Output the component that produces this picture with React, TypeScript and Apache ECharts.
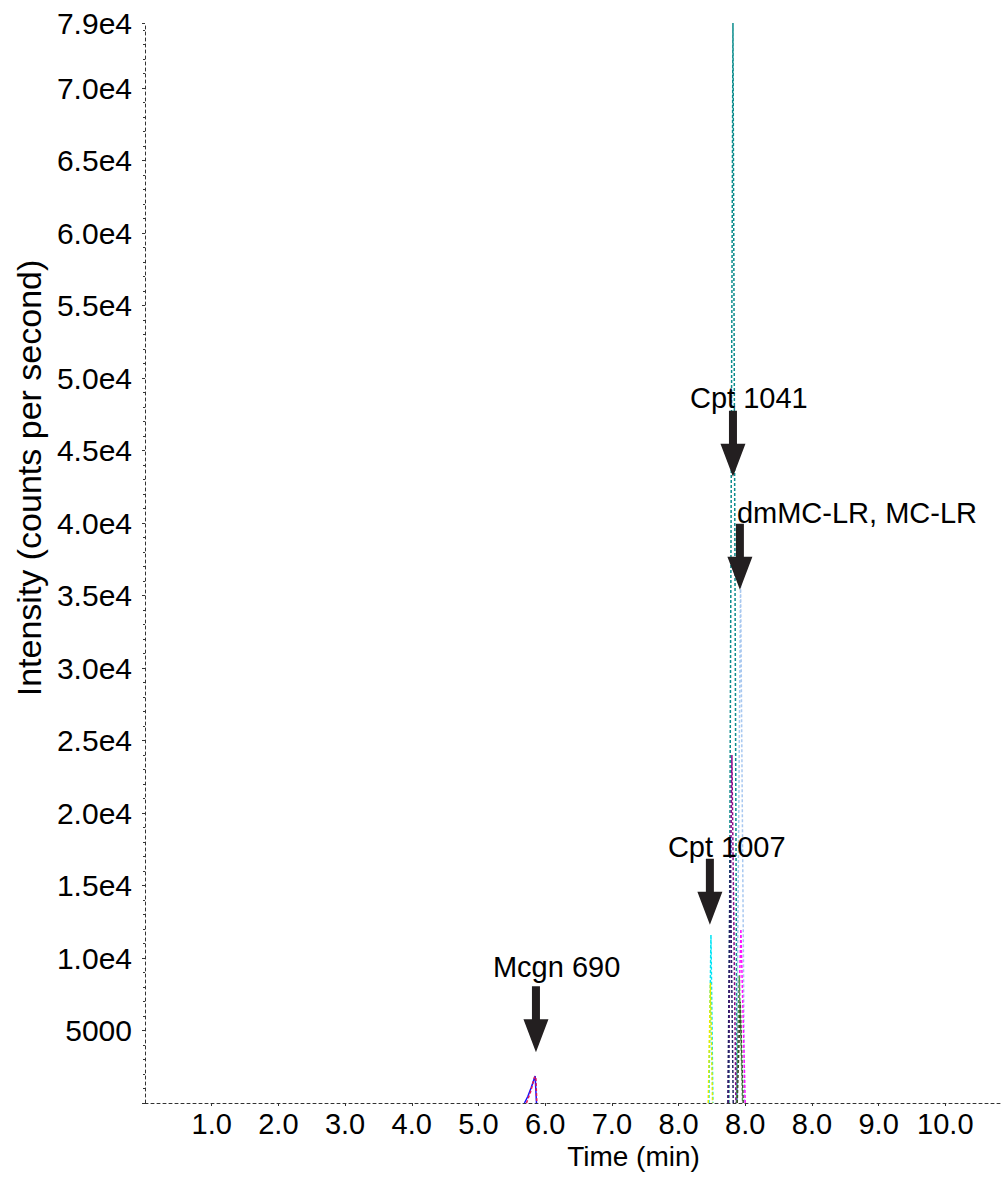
import { useEffect, useRef } from 'react';
import * as echarts from 'echarts';

// Axis ticks as printed on the time axis (one label per unit step)
const X_TICK_LABELS = ['1.0', '2.0', '3.0', '4.0', '5.0', '6.0', '7.0', '8.0', '8.0', '8.0', '9.0', '10.0'];
const X_MAX = 12.85;
const Y_MAX = 74500;
const Y_TOP_LABEL = '7.9e4';

// Extracted ion traces: [time position, intensity]
const mcgnBlue = [[5.69, 0], [5.74, 450], [5.79, 1050], [5.85, 1860], [5.87, 0]];
const mcgnRed = [[5.72, 0], [5.78, 750], [5.84, 1780], [5.86, 1820], [5.875, 0]];
const cpt1007Cyan = [[8.455, 0], [8.486, 11600], [8.515, 0]];
const cpt1007Yellow = [[8.445, 0], [8.478, 8300], [8.51, 0]];
const cpt1041Teal = [[8.755, 0], [8.816, 74500], [8.876, 0]];
const purpleTrace = [[8.745, 0], [8.8, 24000], [8.86, 0]];
const navyTrace = [[8.74, 0], [8.775, 17000], [8.82, 0]];
const mclrLightBlue = [[8.87, 0], [8.93, 36000], [8.99, 0]];
const magentaTrace = [[8.87, 0], [8.935, 12000], [9.0, 0]];
const greenTrace = [[8.87, 0], [8.91, 8800], [8.96, 0]];
const oliveTrace = [[8.88, 0], [8.925, 7000], [8.97, 0]];

const TRACES = [
  { name: 'Mcgn 690 a', color: '#1010ff', dash: 'solid', data: mcgnBlue },
  { name: 'Mcgn 690 b', color: '#e0185a', dash: [3, 2], data: mcgnRed },
  { name: 'Cpt 1007 a', color: '#00e4f4', dash: [3, 2], data: cpt1007Cyan },
  { name: 'Cpt 1007 b', color: '#e4ec00', dash: [3, 2], data: cpt1007Yellow },
  { name: 'Cpt 1041', color: '#0a8c8c', dash: [3, 2], data: cpt1041Teal },
  { name: 'trace p', color: '#8b0a8b', dash: [3, 2], data: purpleTrace },
  { name: 'trace n', color: '#262266', dash: [3, 2], data: navyTrace },
  { name: 'MC-LR', color: '#a8c8f0', dash: [3, 2], data: mclrLightBlue },
  { name: 'dmMC-LR', color: '#ff10ff', dash: [3, 2], data: magentaTrace },
  { name: 'trace g', color: '#4ea04e', dash: [3, 2], data: greenTrace },
  { name: 'trace o', color: '#3c4a30', dash: [3, 2], data: oliveTrace },
];

// Peak annotations: arrow tip position [time position, intensity]
const ANNOT_LABELS = ['Mcgn 690', 'Cpt 1007', 'Cpt 1041', 'dmMC-LR, MC-LR'];
const ANNOT_TIPS = [[5.862, 3500], [8.47, 12300], [8.816, 43200], [8.92, 35400]];
const ANNOT_TEXT_SHIFT = [-43, -42, -43, -3];
const ANNOT_TEXT_RISE = [85, 78, 79, 77];

const FONT = '"Liberation Sans", Arial, sans-serif';

export default function App() {
  const ref = useRef<HTMLDivElement>(null);

  useEffect(() => {
    document.body.style.margin = '0';
    const chart = echarts.init(ref.current!, null, { renderer: 'svg' });

    const lineSeries = TRACES.map((t) => ({
      type: 'line',
      name: t.name,
      data: t.data,
      symbol: 'none',
      silent: true,
      lineStyle: { color: t.color, width: 1.5, type: t.dash },
      z: 3,
    }));

    const annotSeries = {
      type: 'custom',
      coordinateSystem: 'cartesian2d',
      clip: false,
      silent: true,
      z: 10,
      data: ANNOT_TIPS,
      renderItem: (params: any, api: any) => {
        const i = params.dataIndex;
        const [px, py] = api.coord([api.value(0), api.value(1)]);
        const shaftHalf = 4;
        const headHalf = 12.5;
        const headLen = 33;
        const shaftTop = 66;
        return {
          type: 'group',
          children: [
            {
              type: 'polygon',
              shape: {
                points: [
                  [px - shaftHalf, py - shaftTop],
                  [px + shaftHalf, py - shaftTop],
                  [px + shaftHalf, py - headLen],
                  [px + headHalf, py - headLen],
                  [px, py],
                  [px - headHalf, py - headLen],
                  [px - shaftHalf, py - headLen],
                ],
              },
              style: { fill: '#231f20' },
            },
            {
              type: 'text',
              x: px + ANNOT_TEXT_SHIFT[i],
              y: py - ANNOT_TEXT_RISE[i],
              style: {
                text: ANNOT_LABELS[i],
                fill: '#000',
                fontSize: 29,
                fontFamily: FONT,
                align: 'left',
                verticalAlign: 'middle',
              },
            },
          ],
        };
      },
    };

    chart.setOption({
      animation: false,
      backgroundColor: '#fff',
      textStyle: { fontFamily: FONT },
      grid: { left: 145, right: 0, top: 23, bottom: 75 },
      xAxis: {
        type: 'value',
        min: 0,
        max: X_MAX,
        interval: 1,
        name: 'Time (min)',
        nameLocation: 'middle',
        nameGap: 33,
        nameTextStyle: { fontSize: 28, color: '#000', fontFamily: FONT, padding: [0, 0, 0, 120] },
        axisLine: { lineStyle: { color: '#333', width: 1, type: [3, 3] } },
        axisTick: { show: true, length: 3, lineStyle: { color: '#333' } },
        splitLine: { show: false },
        axisLabel: {
          fontSize: 29,
          color: '#000',
          fontFamily: FONT,
          margin: 6,
          showMaxLabel: false,
          showMinLabel: false,
          formatter: (v: number) => {
            const k = Math.round(v);
            if (Math.abs(v - k) > 1e-6 || k < 1 || k > X_TICK_LABELS.length) return '';
            return X_TICK_LABELS[k - 1];
          },
        },
      },
      yAxis: {
        type: 'value',
        min: 0,
        max: Y_MAX,
        interval: 5000,
        name: 'Intensity (counts per second)',
        nameLocation: 'middle',
        nameGap: 96,
        nameRotate: 90,
        nameTextStyle: { fontSize: 34, color: '#000', fontFamily: FONT, padding: [0, 0, 0, 170] },
        axisLine: { show: true, lineStyle: { color: '#333', width: 1, type: [3, 3] } },
        axisTick: { show: true, length: 3, lineStyle: { color: '#333' } },
        minorTick: { show: true, splitNumber: 5, length: 2, lineStyle: { color: '#333' } },
        splitLine: { show: false },
        axisLabel: {
          fontSize: 30,
          color: '#000',
          fontFamily: FONT,
          margin: 13,
          showMaxLabel: true,
          formatter: (v: number) => {
            if (v === 0) return '';
            if (v >= Y_MAX) return Y_TOP_LABEL;
            if (v < 10000) return String(v);
            return (v / 10000).toFixed(1) + 'e4';
          },
        },
      },
      series: [...lineSeries, annotSeries],
    });

    return () => chart.dispose();
  }, []);

  return <div ref={ref} style={{ width: 1002, height: 1178 }} />;
}
